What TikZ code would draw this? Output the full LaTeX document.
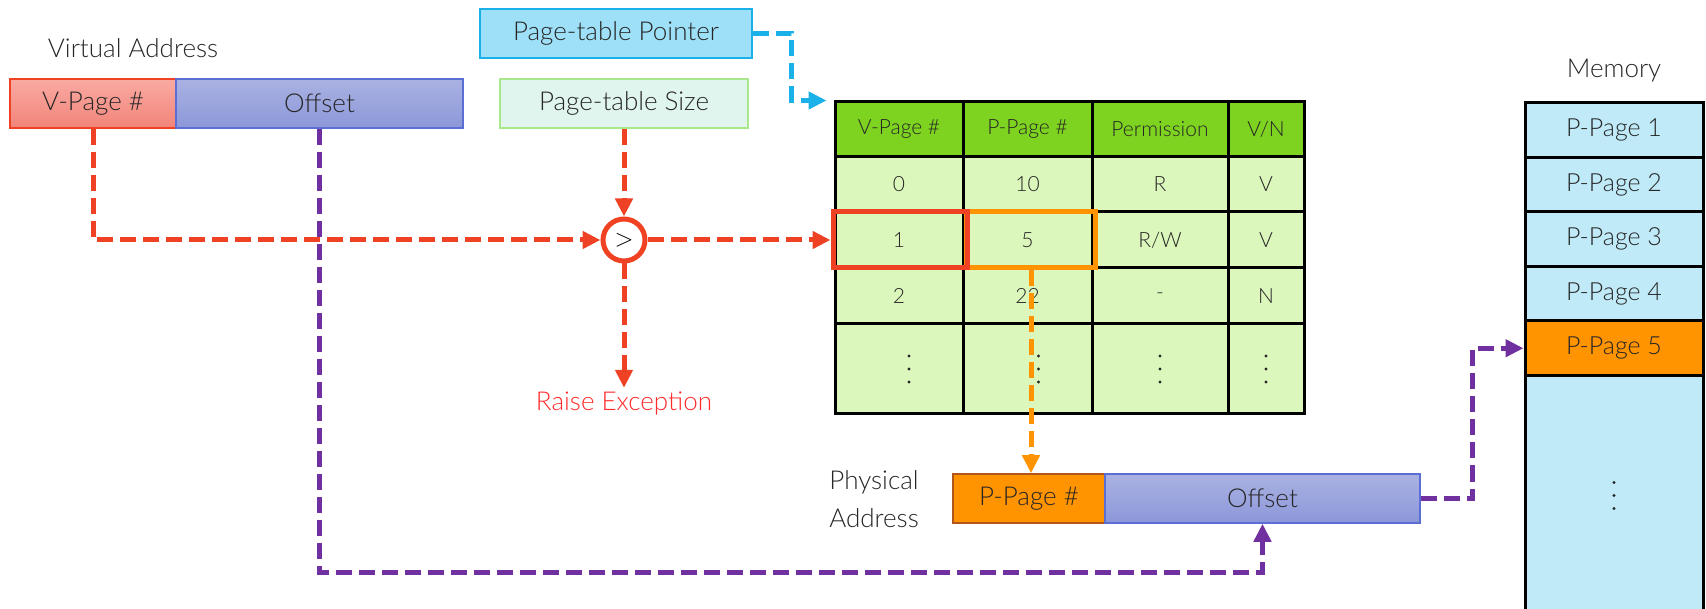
\documentclass[tikz,border=0pt]{standalone}
\usepackage{fontspec}
\IfFontExistsTF{Lato Light}{\setmainfont{Lato Light}}{\setmainfont{Lato}}
\usepackage{amsmath}
\usetikzlibrary{arrows.meta,calc}
\definecolor{redline}{HTML}{EF4123}
\definecolor{purpleline}{HTML}{7030A0}
\definecolor{blueline}{HTML}{1AB0E8}
\definecolor{orangec}{HTML}{FF9300}
\definecolor{orangeborder}{HTML}{B0561A}
\definecolor{tablehead}{HTML}{7ED321}
\definecolor{tablebody}{HTML}{DCF7BC}
\definecolor{memfill}{HTML}{C0EAF8}
\definecolor{ptrfill}{HTML}{9EE0F7}
\definecolor{sizefill}{HTML}{E0F5EE}
\definecolor{sizeborder}{HTML}{A8E88A}
\definecolor{vpagetop}{HTML}{F9AAA3}
\definecolor{vpagebot}{HTML}{F28479}
\definecolor{offtop}{HTML}{AAB2E2}
\definecolor{offbot}{HTML}{8C97D9}
\definecolor{offborder}{HTML}{5A6ED3}
\definecolor{excred}{HTML}{FF2A2A}
\colorlet{textc}{black!85}
\newcommand{\coldots}{% vertical dots
\tikz[x=1pt,y=1pt,baseline=12pt]{
    \foreach \k in {0,1,2} \fill[textc] (0,\k*13) circle (1.7);
}}
\tikzstyle{field} = [
    rectangle,
    minimum height=49pt,
    inner sep=0pt,
    line width=1.5pt,
    text=textc,
    font=\fontsize{26}{30}\selectfont
    ]
\tikzstyle{cell} = [
    rectangle,
    draw=black,
    line width=3pt,
    fill=tablebody,
    inner sep=0pt,
    text=textc,
    font=\fontsize{21}{24}\selectfont
    ]
\tikzstyle{memcell} = [
    rectangle,
    draw=black,
    line width=3pt,
    fill=memfill,
    minimum width=178pt,
    minimum height=54.5pt,
    inner sep=0pt,
    text=textc,
    font=\fontsize{25}{28}\selectfont
    ]
\tikzstyle{hlbox} = [
    rectangle,
    line width=5pt,
    minimum height=56pt,
    inner sep=0pt
    ]
\tikzstyle{label} = [
    text=textc,
    align=center,
    font=\fontsize{26}{38}\selectfont
    ]
\tikzstyle{link} = [
    line width=5pt,
    dash pattern=on 16pt off 7pt,
    -{Triangle[length=18pt,width=17pt]}
    ]

\begin{document}
\begin{tikzpicture}[x=1pt,y=-1pt]
\useasboundingbox (0,0) rectangle (1706,609);

% virtual address
\node[label] (valabel) at (133,48) {Virtual Address};
\node[field, minimum width=166pt, draw=redline, top color=vpagetop, bottom color=vpagebot] (vpage) at (93,103.5) {V-Page \#};
\node[field, minimum width=287pt, draw=offborder, top color=offtop, bottom color=offbot] (voff) at (319.5,103.5) {Offset};

\node[field, minimum width=272pt, draw=blueline, fill=ptrfill] (ptp) at (616,33.5) {Page-table Pointer};
\node[field, minimum width=248pt, draw=sizeborder, fill=sizefill] (pts) at (624,103.5) {Page-table Size};

\node[circle, draw=redline, line width=5pt, fill=white, minimum size=42pt, inner sep=0pt, text=black, font=\fontsize{30}{30}\selectfont] (cmp) at (624,240) {$>$};
\node[label, text=excred] (exc) at (624,403) {Raise Exception};

% page table
\foreach \c/\x/\w/\t in {1/899/128/{V-Page \#}, 2/1027.5/129/{P-Page \#}, 3/1160/136/{Permission}, 4/1266/76/{V/N}}
    \node[cell, fill=tablehead, minimum width=\w pt, minimum height=55pt] (h\c) at (\x,129.5) {\t};
\foreach \r/\y/\h/\a/\b/\p/\v in {1/184.5/55/0/10/R/V, 2/240/56/1/5/{R/W}/V, 3/296/56/2/22/-/N, 4/369/90/{\hspace{20pt}\coldots}/{\hspace{22pt}\coldots}/\coldots/\coldots} {
    \node[cell, minimum width=128pt, minimum height=\h pt] (t\r-1) at (899,\y) {\a};
    \node[cell, minimum width=129pt, minimum height=\h pt] (t\r-2) at (1027.5,\y) {\b};
    \node[cell, minimum width=136pt, minimum height=\h pt] (t\r-3) at (1160,\y) {\p};
    \node[cell, minimum width=76pt, minimum height=\h pt] (t\r-4) at (1266,\y) {\v};
}
\node[hlbox, draw=orangec, minimum width=129pt] (selp) at (1031,240) {};
\node[hlbox, draw=redline, minimum width=134pt] (selv) at (900,240) {};

% physical address
\node[label] (palabel) at (874,499) {Physical\\Address};
\node[field, minimum width=152pt, draw=orangeborder, fill=orangec] (ppage) at (1029,498.5) {P-Page \#};
\node[field, minimum width=315pt, draw=offborder, top color=offtop, bottom color=offbot] (poff) at (1262.5,498.5) {Offset};

% memory
\node[label] (memlabel) at (1614,71) {Memory};
\foreach \i in {1,...,4}
    \node[memcell] (m\i) at (1614,75.75+54.5*\i) {P-Page \i};
\node[memcell, fill=orangec] (m5) at (1614,348.25) {P-Page 5};
\node[memcell, minimum height=240pt] (m6) at (1614,495.5) {\coldots};

\coordinate (ptarget) at ($(h1.north west)+(-7,0)$);
\coordinate (pbend) at (0,572);

\draw[link, blueline] (ptp.east) -- ++(39,0) |- (ptarget);
\draw[link, redline] (vpage.south) |- (cmp.west);
\draw[link, redline] (pts.south) -- (cmp.north);
\draw[link, redline] (cmp.east) -- (selv.west);
\draw[link, redline] (cmp.south) -- (exc.north);
\draw[link, purpleline] (voff.south) -- (voff.south |- pbend) -| (poff.south);
\draw[link, orangec] (selp.south) -- (selp.south |- ppage.north);
\draw[link, purpleline] (poff.east) -- ++(52,0) |- (m5.west);
\end{tikzpicture}
\end{document}
